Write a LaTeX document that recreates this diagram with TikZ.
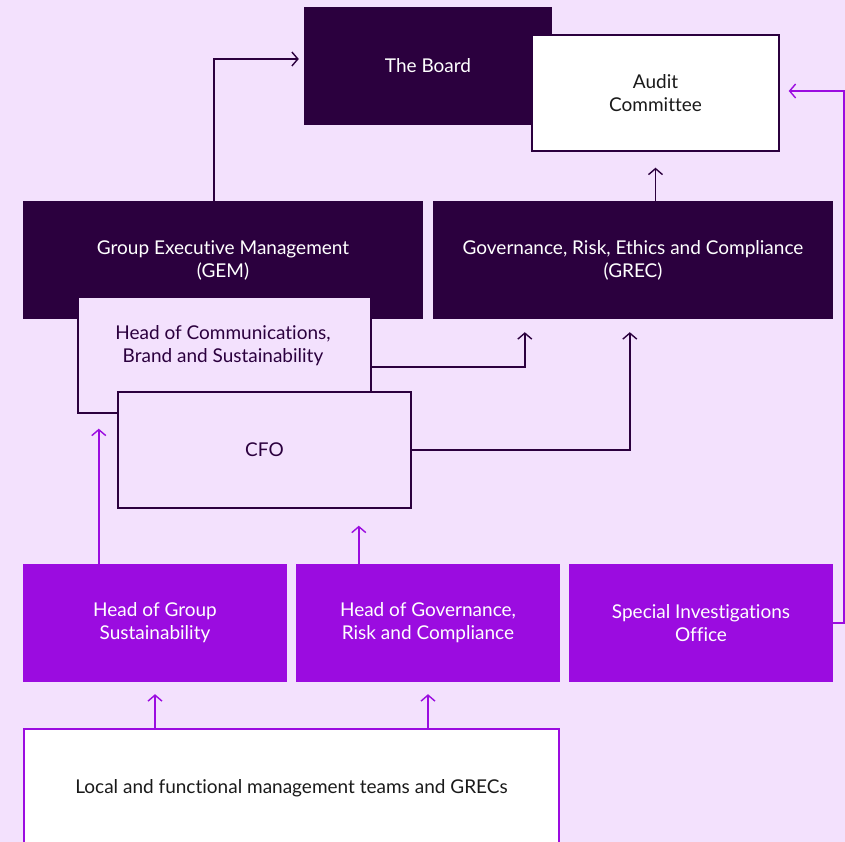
\documentclass[tikz,border=0pt]{standalone}
\usepackage{fontspec}
\setmainfont{Lato}[Ligatures={NoCommon}]
\usetikzlibrary{arrows.meta,calc}
\definecolor{bgc}{HTML}{F3E1FD}
\definecolor{darkc}{HTML}{2B003E}
\definecolor{purc}{HTML}{9B0CE0}
\definecolor{txtc}{HTML}{1A1A1A}
\begin{document}
\begin{tikzpicture}[x=1pt,y=-1pt,
  box/.style={rectangle, inner sep=0pt, align=center, font=\fontsize{19}{23}\selectfont},
  darkbox/.style={box, fill=darkc, text=white, minimum width=400pt, minimum height=118pt},
  lightbox/.style={box, fill=bgc, draw=darkc, line width=1.4pt, text=darkc, minimum width=293pt, minimum height=116pt},
  purbox/.style={box, fill=purc, text=white, minimum width=264pt, minimum height=118pt},
  darr/.style={draw=darkc, line width=1.4pt, -{Straight Barb[length=6pt,width=14pt,line width=1.4pt]}},
  parr/.style={draw=purc, line width=1.4pt, -{Straight Barb[length=6pt,width=14pt,line width=1.4pt]}},
]
\fill[bgc] (0,0) rectangle (845,842);
\useasboundingbox (0,0) rectangle (845,842);

\node[darkbox, minimum width=248pt] (board) at (428,66) {The Board};
\node[box, fill=white, draw=darkc, line width=1.4pt, text=txtc, minimum width=247pt, minimum height=116pt] (audit) at (655.5,93) {Audit\\Committee};

\node[darkbox] (gem) at (223,260) {Group Executive Management\\(GEM)};
\node[darkbox] (grec) at (633,260) {Governance, Risk, Ethics and Compliance\\(GREC)};

\node[lightbox] (hoc) at (224.5,355) {};
\node[box, text=darkc] (hoctext) at (223,346) {Head of Communications,\\Brand and Sustainability};
\node[lightbox] (cfo) at (264.5,450) {CFO};

\node[purbox] (hgs) at (155,623) {Head of Group\\Sustainability};
\node[purbox] (hgrc) at (428,623) {Head of Governance,\\Risk and Compliance};
\node[purbox] (sio) at (701,623) {Special Investigations\\Office};

\node[box, fill=white, draw=purc, line width=1.4pt, text=txtc, minimum width=535pt, minimum height=118pt] (local) at (291.5,788) {Local and functional management teams and GRECs};

\coordinate (edge) at (844,0);

% connectors
\draw[darr, shorten >=5pt] ($(gem.north west)+(191,0)$) |- ($(board.west)+(0,-7)$);
\draw[darr, shorten >=16pt] (audit.south |- grec.north) -- (audit.south);
\draw[darr, shorten >=13pt] ($(hoc.east)+(0,12)$) -| ($(grec.south west)+(92,0)$);
\draw[darr, shorten >=13pt] (cfo.east) -| ($(grec.south west)+(197,0)$);

\draw[parr, shorten >=15pt] ($(hgs.north west)+(76,0)$) coordinate (a1) -- (a1 |- hoc.south);
\draw[parr, shorten >=17pt] ($(hgrc.north west)+(63,0)$) coordinate (a2) -- (a2 |- cfo.south);
\draw[parr, shorten >=12pt] (hgs.south |- local.north) -- (hgs.south);
\draw[parr, shorten >=12pt] (hgrc.south |- local.north) -- (hgrc.south);
\draw[parr, shorten >=9pt] (sio.east) -- (sio.east -| edge) |- ($(audit.east)+(0,-2)$);
\end{tikzpicture}
\end{document}
